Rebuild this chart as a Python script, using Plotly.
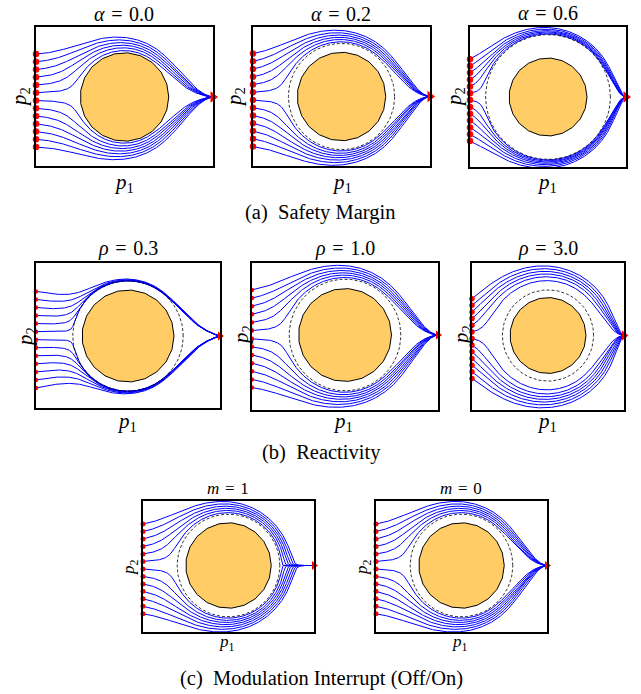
import math
import plotly.graph_objects as go

# ---------------- data ----------------
START_X = -2.0
START_Y = [0.97, 0.795, 0.62, 0.445, 0.27, 0.095, -0.08, -0.255, -0.43, -0.605, -0.78, -0.955, -1.13]
GOAL = [2.0, 0.0]
OBSTACLE_CENTER = [0.0, 0.0]
OBSTACLE_RADIUS = 1.0

SP = "\u2004"
PANEL_TITLES = ["<i>α</i>" + SP + "=" + SP + "0.0", "<i>α</i>" + SP + "=" + SP + "0.2",
                "<i>α</i>" + SP + "=" + SP + "0.6",
                "<i>ρ</i>" + SP + "=" + SP + "0.3", "<i>ρ</i>" + SP + "=" + SP + "1.0",
                "<i>ρ</i>" + SP + "=" + SP + "3.0",
                "<i>m</i>" + SP + "=" + SP + "1", "<i>m</i>" + SP + "=" + SP + "0"]
ALPHA = [0.0, 0.2, 0.6, 0.2, 0.2, 0.2, 0.2, 0.2]   # safety margin
RHO = [1.0, 1.0, 1.0, 0.3, 1.0, 3.0, 1.0, 1.0]     # reactivity
MOD = [0, 0, 0, 0, 0, 0, 1, 0]                     # modulation interrupt flag
CAPTIONS = ["(a)\u00a0 Safety Margin", "(b)\u00a0 Reactivity",
            "(c)\u00a0 Modulation Interrupt (Off/On)"]

# ---------------- layout (pixels) ----------------
W, H = 641, 694
# x0, x1, top, bottom, circle-centre y
BOXES = [(36, 213, 27, 166, 97), (253, 430, 27, 166, 96.5), (470, 626, 27, 167, 97),
         (36, 220, 263, 408, 336), (252, 438, 263, 410, 335), (472, 624, 263, 410, 335.5),
         (143, 314, 501, 632, 565.5), (376, 547, 501, 632, 565.5)]
TITLE_POS = [(124, 14), (341, 14), (548, 13), (128, 249), (345, 249), (548, 249), (228, 488), (461, 488)]
P1_POS = [(124, 183), (342, 183), (547, 183), (127, 422), (343, 422), (547, 422), (227, 643), (460, 643)]
P2_POS = [(20, 97), (235, 97), (455, 97), (26, 337), (242, 335), (462, 335), (130, 567), (363, 567)]
CAPTION_POS = [(320, 212), (322, 452), (322, 678)]
TITLE_SIZE = [20, 20, 20, 20, 20, 20, 17, 17]
LABEL_SIZE = [21, 21, 21, 21, 21, 21, 17, 17]
DOT_SIZE = [6.5, 6.5, 6.5, 4.5, 4.5, 5.5, 5, 5]
TRI_SIZE = [10, 10, 10, 8, 8, 9, 8, 8]
FONT = "Liberation Serif"


def velocity(x, y, R, rho, m):
    fx, fy = GOAL[0] - x, GOAL[1] - y
    dx, dy = x - OBSTACLE_CENTER[0], y - OBSTACLE_CENTER[1]
    d = math.hypot(dx, dy)
    nx, ny = dx / d, dy / d
    tx, ty = -ny, nx
    fr = fx * nx + fy * ny
    ft = fx * tx + fy * ty
    gamma = max(d / R, 1.0 + 1e-7)
    g = gamma ** (1.0 / rho)
    lr = 1.0 - 1.0 / g
    le = 1.0 + 1.0 / g
    if m == 0 and fr > 0:
        lr = 1.0
    return lr * fr * nx + le * ft * tx, lr * fr * ny + le * ft * ty


def trajectory(y0, R, rho, m):
    x, y = START_X, y0
    xs, ys = [x], [y]
    h = 0.004
    for i in range(6000):
        if math.hypot(GOAL[0] - x, GOAL[1] - y) < 0.006:
            break
        vx, vy = velocity(x, y, R, rho, m)
        n = math.hypot(vx, vy) or 1.0
        mx, my = x + 0.5 * h * vx / n, y + 0.5 * h * vy / n
        vx, vy = velocity(mx, my, R, rho, m)
        n = math.hypot(vx, vy) or 1.0
        x, y = x + h * vx / n, y + h * vy / n
        d = math.hypot(x, y)
        if d < R * 1.0005:
            x, y = x / d * R * 1.0005, y / d * R * 1.0005
        if i % 3 == 0:
            xs.append(x)
            ys.append(y)
    xs.append(GOAL[0])
    ys.append(GOAL[1])
    return xs, ys


fig = go.Figure()
layout = dict(width=W, height=H, margin=dict(l=0, r=0, t=0, b=0),
              paper_bgcolor="white", plot_bgcolor="white", showlegend=False)
annotations = []


def ann(text, pos, size, angle=0):
    annotations.append(dict(text=text, x=pos[0] / W, y=1 - pos[1] / H, xref="paper", yref="paper",
                            xanchor="center", yanchor="middle", showarrow=False,
                            textangle=angle, font=dict(family=FONT, size=size, color="black")))


n_poly = 21
n_dash = 120
for k in range(8):
    x0, x1, top, bot, cy = BOXES[k]
    s = (x1 - x0) / 4.0
    yr = [(cy - bot) / s, (cy - top) / s]
    ax = "" if k == 0 else str(k + 1)
    axis_common = dict(showline=True, mirror=True, linecolor="black", linewidth=1.5,
                       showgrid=False, zeroline=False, showticklabels=False, ticks="",
                       fixedrange=True)
    layout["xaxis" + ax] = dict(domain=[x0 / W, x1 / W], range=[-2.0, 2.0],
                                anchor="y" + ax, **axis_common)
    layout["yaxis" + ax] = dict(domain=[1 - bot / H, 1 - top / H], range=yr,
                                anchor="x" + ax, **axis_common)
    xr, yrf = "x" + ax, "y" + ax
    R = OBSTACLE_RADIUS * (1 + ALPHA[k])

    tx, ty = [], []
    for y0 in START_Y:
        a, b = trajectory(y0, R, RHO[k], MOD[k])
        tx += a + [None]
        ty += b + [None]
    fig.add_trace(go.Scatter(x=tx, y=ty, mode="lines", line=dict(color="#0000FF", width=1),
                             xaxis=xr, yaxis=yrf, hoverinfo="skip"))

    px = [OBSTACLE_CENTER[0] + OBSTACLE_RADIUS * math.cos(2 * math.pi * i / n_poly) for i in range(n_poly + 1)]
    py = [OBSTACLE_CENTER[1] + OBSTACLE_RADIUS * math.sin(2 * math.pi * i / n_poly) for i in range(n_poly + 1)]
    fig.add_trace(go.Scatter(x=px, y=py, mode="lines", fill="toself", fillcolor="#FFCC66",
                             line=dict(color="black", width=1), xaxis=xr, yaxis=yrf, hoverinfo="skip"))
    if ALPHA[k] > 0:
        dxs = [R * math.cos(2 * math.pi * i / n_dash) for i in range(n_dash + 1)]
        dys = [R * math.sin(2 * math.pi * i / n_dash) for i in range(n_dash + 1)]
        fig.add_trace(go.Scatter(x=dxs, y=dys, mode="lines",
                                 line=dict(color="black", width=0.8, dash="3px,2px"),
                                 xaxis=xr, yaxis=yrf, hoverinfo="skip"))
    fig.add_trace(go.Scatter(x=[START_X] * len(START_Y), y=START_Y, mode="markers",
                             marker=dict(color="red", size=DOT_SIZE[k], line=dict(width=0)),
                             cliponaxis=False, xaxis=xr, yaxis=yrf, hoverinfo="skip"))
    fig.add_trace(go.Scatter(x=[GOAL[0]], y=[GOAL[1]], mode="markers",
                             marker=dict(color="red", size=TRI_SIZE[k], symbol="triangle-right",
                                         line=dict(width=0)),
                             cliponaxis=False, xaxis=xr, yaxis=yrf, hoverinfo="skip"))

    ann(PANEL_TITLES[k], TITLE_POS[k], TITLE_SIZE[k])
    ann("<i>p</i><sub>1</sub>", P1_POS[k], LABEL_SIZE[k])
    ann("<i>p</i><sub>2</sub>", P2_POS[k], LABEL_SIZE[k], -90)

for text, pos in zip(CAPTIONS, CAPTION_POS):
    ann(text, pos, 20.5)

layout["annotations"] = annotations
fig.update_layout(**layout)
fig.write_html("out.html", config={"displayModeBar": False},
               post_script="document.body.style.margin='0px';document.body.style.overflow='hidden';")
